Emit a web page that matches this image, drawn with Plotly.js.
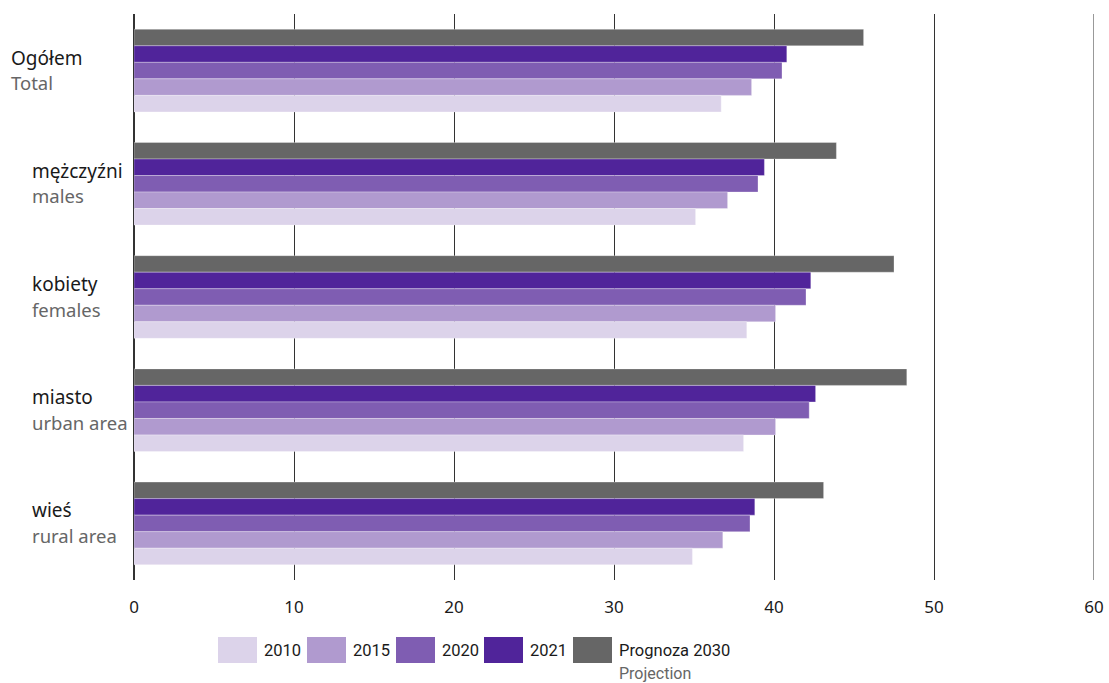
<!DOCTYPE html>
<html><head><meta charset="utf-8">
<script src="https://cdn.plot.ly/plotly-3.0.1.min.js"></script>
<style>html,body{margin:0;padding:0;background:#fff}#chart{width:1109px;height:683px}</style>
</head><body><div id="chart"></div>
<script>
const categories = ["Ogółem", "mężczyźni", "kobiety", "miasto", "wieś"];
const categoriesEn = ["Total", "males", "females", "urban area", "rural area"];
const seriesNames = ["2010", "2015", "2020", "2021", "Prognoza 2030"];
const v2010 = [36.7, 35.1, 38.3, 38.1, 34.9];
const v2015 = [38.6, 37.1, 40.1, 40.1, 36.8];
const v2020 = [40.5, 39.0, 42.0, 42.2, 38.5];
const v2021 = [40.8, 39.4, 42.3, 42.6, 38.8];
const v2030 = [45.6, 43.9, 47.5, 48.3, 43.1];
const xTicks = [0, 10, 20, 30, 40, 50, 60];
const colors = ["#dcd3ea", "#b09acf", "#7f5db2", "#50249a", "#666666"];

const seriesVals = [v2010, v2015, v2020, v2021, v2030];
const FONT = "Noto Sans, Open Sans, sans-serif";
const NARROW = "Roboto, sans-serif";
const traces = [];
for (let i = seriesVals.length - 1; i >= 0; i--) {
  traces.push({
    type: "bar", orientation: "h", name: seriesNames[i],
    x: seriesVals[i], y: categories,
    marker: {color: colors[i], line: {color: "rgba(255,255,255,0.6)", width: 0.5}},
    showlegend: false, hoverinfo: "x"
  });
}

const annotations = [];
categories.forEach((c, k) => {
  const xx = k === 0 ? -125 : -104;
  annotations.push({xref: "x", yref: "y", x: 0, y: c, xshift: xx, yshift: 13, xanchor: "left", yanchor: "middle",
    text: c, showarrow: false, font: {family: FONT, size: 19, color: "#1a1a1a"}});
  annotations.push({xref: "x", yref: "y", x: 0, y: c, xshift: xx, yshift: -12, xanchor: "left", yanchor: "middle",
    text: categoriesEn[k], showarrow: false, font: {family: FONT, size: 18.5, color: "#666666"}});
});

// legend (manual)
const shapes = [];
const W = 1109, H = 683, mL = 134, mR = 15, mT = 14, mB = 103;
const pw = W - mL - mR, ph = H - mT - mB;
const toPx = px => (px - mL) / pw;
const toPy = py => (H - mB - py) / ph;
const swX = [218, 307, 396, 484, 573];
seriesNames.forEach((n, i) => {
  shapes.push({type: "rect", xref: "paper", yref: "paper",
    x0: toPx(swX[i]), x1: toPx(swX[i] + 39), y0: toPy(663), y1: toPy(637),
    fillcolor: colors[i], line: {width: 0}});
  annotations.push({xref: "paper", yref: "paper", x: toPx(swX[i] + 44), y: toPy(650),
    xanchor: "left", yanchor: "middle", showarrow: false, text: n,
    font: {family: NARROW, size: 16.5, color: "#1a1a1a"}});
});
annotations.push({xref: "paper", yref: "paper", x: toPx(swX[4] + 44), y: toPy(673),
  xanchor: "left", yanchor: "middle", showarrow: false, text: "Projection",
  font: {family: NARROW, size: 16, color: "#666666"}});
// gridline at the right edge (x = 60)
shapes.push({type: "line", xref: "x", yref: "paper", x0: xTicks[xTicks.length - 1], x1: xTicks[xTicks.length - 1],
  y0: 0, y1: 1, line: {color: "#333333", width: 1}});

const layout = {
  width: W, height: H,
  margin: {l: mL, r: mR, t: mT, b: mB},
  paper_bgcolor: "#fff", plot_bgcolor: "#fff",
  barmode: "group", bargap: 0.27, bargroupgap: 0,
  showlegend: false,
  font: {family: FONT, size: 16, color: "#1a1a1a"},
  xaxis: {range: [0, 60], tickvals: xTicks, ticktext: xTicks.map(String),
    showgrid: true, gridcolor: "#333333", gridwidth: 1,
    zeroline: true, zerolinecolor: "#333333", zerolinewidth: 1.5,
    showline: false, ticks: "", ticklabelstandoff: 15,
    tickfont: {family: FONT, size: 17, color: "#1a1a1a"},
    fixedrange: true},
  yaxis: {autorange: "reversed", showticklabels: false, showgrid: false, zeroline: false,
    showline: false, ticks: "", fixedrange: true},
  annotations: annotations, shapes: shapes
};
Plotly.newPlot("chart", traces, layout, {displayModeBar: false, staticPlot: true});
</script></body></html>
